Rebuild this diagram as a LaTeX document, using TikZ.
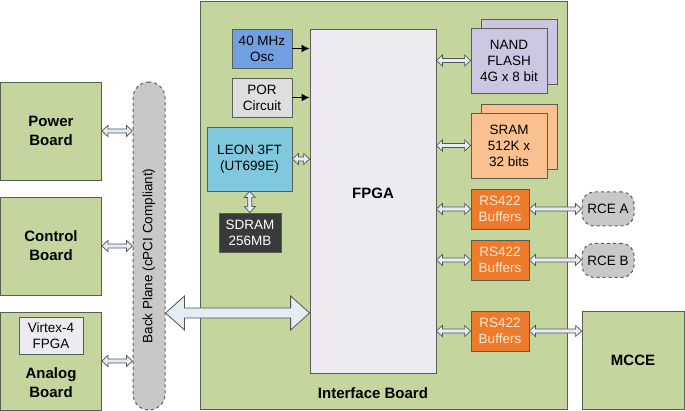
\documentclass[tikz,border=0pt]{standalone}
\usepackage{fontspec}
\setmainfont{Liberation Sans}
\usetikzlibrary{arrows.meta,positioning,calc}
\definecolor{boardGreen}{RGB}{196,214,158}
\definecolor{lineGray}{RGB}{88,94,82}
\definecolor{fpgaFill}{RGB}{237,234,242}
\definecolor{oscBlue}{RGB}{112,160,224}
\definecolor{porGray}{RGB}{222,222,222}
\definecolor{leonCyan}{RGB}{128,200,222}
\definecolor{sdramDark}{RGB}{58,58,58}
\definecolor{nandPurple}{RGB}{204,198,226}
\definecolor{sramPeach}{RGB}{250,192,144}
\definecolor{rsOrange}{RGB}{238,122,44}
\definecolor{rsText}{RGB}{255,232,214}
\definecolor{rceGray}{RGB}{200,200,200}
\definecolor{arrowFill}{RGB}{228,236,246}
\definecolor{arrowGray}{RGB}{80,84,84}

% two-headed block arrow: [style]{from}{to}{half shaft}{half head}{head length}
\newcommand{\blockarrow}[6][]{%
  \draw[draw=arrowGray, fill=arrowFill, line width=0.7pt, line join=miter, #1]
    (#2)
    -- ($(#2)!#6pt!(#3)!#5pt!90:(#3)$)
    -- ($(#2)!#6pt!(#3)!#4pt!90:(#3)$)
    -- ($(#3)!#6pt!(#2)!#4pt!-90:(#2)$)
    -- ($(#3)!#6pt!(#2)!#5pt!-90:(#2)$)
    -- (#3)
    -- ($(#3)!#6pt!(#2)!#5pt!90:(#2)$)
    -- ($(#3)!#6pt!(#2)!#4pt!90:(#2)$)
    -- ($(#2)!#6pt!(#3)!#4pt!-90:(#3)$)
    -- ($(#2)!#6pt!(#3)!#5pt!-90:(#3)$)
    -- cycle;}

\begin{document}
\begin{tikzpicture}[x=1pt,y=-1pt,
  box/.style={draw=lineGray, line width=0.8pt, align=center, inner sep=0pt,
    font=\fontsize{13.5}{16}\selectfont},
  board/.style={box, fill=boardGreen, font=\fontsize{15}{19}\selectfont\bfseries},
  smallbox/.style={box, minimum width=60pt, minimum height=39pt},
  membox/.style={box, minimum width=76pt, minimum height=65pt},
  rsbox/.style={box, fill=rsOrange, text=rsText, minimum width=58pt, minimum height=40pt},
  rcebox/.style={box, fill=rceGray, dashed, line width=1pt, rounded corners=12pt,
    minimum width=52pt, minimum height=34pt},
  bigtext/.style={font=\fontsize{15}{19}\selectfont\bfseries},
  sig/.style={-{Latex[length=8pt,width=8pt]}, line width=1.5pt, black},
]
\useasboundingbox (0,0) rectangle (685,411);

% interface board and FPGA
\node[board, minimum width=367pt, minimum height=408pt] (iface) at (383.5,205) {};
\node[bigtext] (ifacetext) at (373,393) {Interface Board};
\node[box, fill=fpgaFill, minimum width=126pt, minimum height=344pt] (fpga) at (373,201) {};
\node[bigtext] (fpgatext) at (373,193) {FPGA};

% parts left of the FPGA
\node[smallbox, fill=oscBlue] (osc) at (262,48.5) {40 MHz\\Osc};
\node[smallbox, fill=porGray] (por) at (262,97.5) {POR\\Circuit};
\node[box, fill=leonCyan, minimum width=85pt, minimum height=64pt] (leon) at (249.5,159) {LEON 3FT\\(UT699E)};
\node[smallbox, fill=sdramDark, text=white, minimum width=62pt] (sdram) at (250,232.5) {SDRAM\\256MB};

% memories
\node[membox, fill=nandPurple] (nandback) at (519,51.5) {};
\node[membox, fill=nandPurple] (nand) at (509,60.5) {NAND\\FLASH\\4G x 8 bit};
\node[membox, fill=sramPeach] (sramback) at (519,136.5) {};
\node[membox, fill=sramPeach] (sram) at (509,145.5) {SRAM\\512K x\\32 bits};

% RS422 buffers and outside units
\node[rsbox] (rsa) at (500,209) {RS422\\Buffers};
\node[rsbox] (rsb) at (500,260) {RS422\\Buffers};
\node[rsbox] (rsc) at (500,331) {RS422\\Buffers};
\node[rcebox] (rcea) at (608,209) {RCE A};
\node[rcebox] (rceb) at (608,260.5) {RCE B};
\node[board, minimum width=102pt, minimum height=98pt] (mcce) at (633,360) {MCCE};

% boards on the back plane
\node[board, minimum width=101pt, minimum height=98pt] (power) at (51,131) {Power\\Board};
\node[board, minimum width=101pt, minimum height=98pt] (control) at (51,246) {Control\\Board};
\node[board, minimum width=101pt, minimum height=98pt] (analog) at (51,361) {};
\node[box, fill=fpgaFill, minimum width=64pt, minimum height=37pt] (virtex) at (51,335.5) {Virtex-4\\FPGA};
\node[bigtext, align=center] (analogtext) at (51,383) {Analog\\Board};
\node[box, fill=rceGray, dashed, line width=1pt, rounded corners=16pt,
  minimum width=32pt, minimum height=328pt] (bp) at (149,246) {};
\node[rotate=90, font=\fontsize{13.5}{16}\selectfont] (bptext) at (149,256) {Back Plane (cPCI Compliant)};

% connectors
\blockarrow{power.east}{power.east -| bp.west}{2}{5.5}{6}
\blockarrow{control.east}{control.east -| bp.west}{2}{5.5}{6}
\blockarrow{analog.east}{analog.east -| bp.west}{2}{5.5}{6}
\coordinate (busy) at (0,313);
\blockarrow[line width=0.8pt]{busy -| bp.east}{busy -| fpga.west}{5}{17}{19}

\draw[sig] (osc.east) -- (osc.east -| fpga.west);
\draw[sig] (por.east) -- (por.east -| fpga.west);
\blockarrow{leon.east}{leon.east -| fpga.west}{2}{5.5}{6}
\blockarrow{leon.south}{sdram.north}{2}{5.5}{6}

\blockarrow{nand.west -| fpga.east}{nand.west}{2}{5.5}{6}
\blockarrow{sram.west -| fpga.east}{sram.west}{2}{5.5}{6}
\blockarrow{rsa.west -| fpga.east}{rsa.west}{2}{5.5}{6}
\blockarrow{rsb.west -| fpga.east}{rsb.west}{2}{5.5}{6}
\blockarrow{rsc.west -| fpga.east}{rsc.west}{2}{5.5}{6}
\blockarrow{rsa.east}{rcea.west}{2}{5.5}{6}
\blockarrow{rsb.east}{rsb.east -| rceb.west}{2}{5.5}{6}
\blockarrow{rsc.east}{rsc.east -| mcce.west}{2}{5.5}{6}
\end{tikzpicture}
\end{document}
